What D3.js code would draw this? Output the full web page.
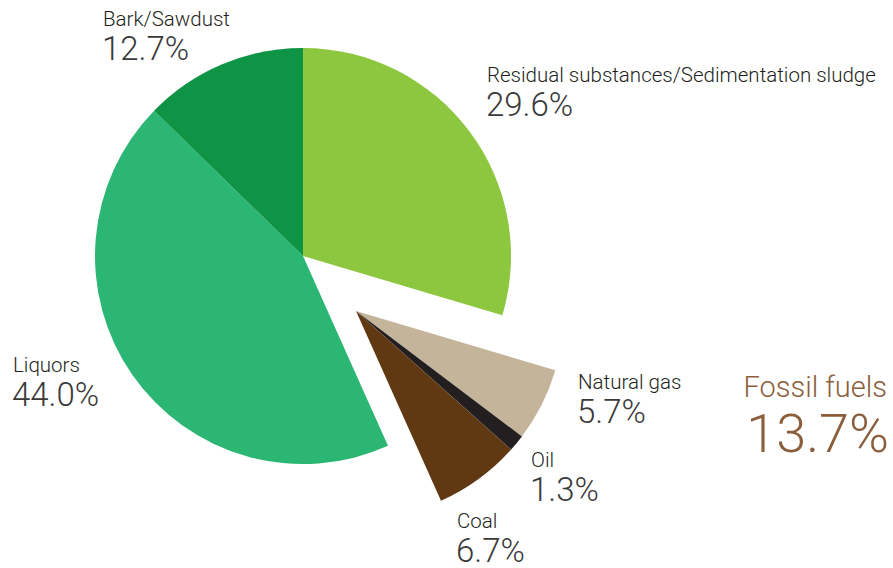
<!DOCTYPE html>
<html>
<head>
<meta charset="utf-8">
<script src="https://cdn.jsdelivr.net/npm/d3@7"></script>
<style>
  html, body { margin: 0; padding: 0; background: #ffffff; }
  svg text { font-family: Roboto, "Liberation Sans", sans-serif; font-weight: 300; }
</style>
</head>
<body>
<svg id="chart" width="893" height="568"></svg>
<script>
// Energy sources, in drawing order (clockwise from 12 o'clock)
const categories = ["Residual substances/Sedimentation sludge", "Natural gas", "Oil", "Coal", "Liquors", "Bark/Sawdust"];
const shares = [29.6, 5.7, 1.3, 6.7, 44.0, 12.7];
const fossil = ["Natural gas", "Oil", "Coal"];
const fossilTitle = "Fossil fuels";
const fossilShare = 13.7;

const colors = {
  "Residual substances/Sedimentation sludge": "#8dc63f",
  "Natural gas": "#c4b49a",
  "Oil": "#231f20",
  "Coal": "#603913",
  "Liquors": "#2bb673",
  "Bark/Sawdust": "#0f9345"
};

// label anchor (left edge, baseline of the name line)
const labelPos = {
  "Residual substances/Sedimentation sludge": [487, 82],
  "Natural gas": [578, 389],
  "Oil": [531, 467],
  "Coal": [457, 528],
  "Liquors": [13, 372],
  "Bark/Sawdust": [103, 26]
};

const cx = 303, cy = 256, radius = 208;
const explode = [53, 55];

const svg = d3.select("#chart");
const data = categories.map((c, i) => ({ name: c, value: shares[i] }));

const pie = d3.pie().sort(null).value(d => d.value).startAngle(0).endAngle(2 * Math.PI);
const arc = d3.arc().innerRadius(0).outerRadius(radius);

const g = svg.append("g").attr("transform", `translate(${cx},${cy})`);

g.selectAll("path")
  .data(pie(data))
  .join("path")
  .attr("d", arc)
  .attr("fill", d => colors[d.data.name])
  .attr("transform", d => fossil.includes(d.data.name) ? `translate(${explode[0]},${explode[1]})` : null);

const fmt = d3.format(".1f");

const labels = svg.append("g");
data.forEach(d => {
  const [x, y] = labelPos[d.name];
  labels.append("text")
    .attr("x", x).attr("y", y)
    .attr("font-size", 20.5)
    .attr("fill", "#231f20")
    .text(d.name);
  labels.append("text")
    .attr("x", x - 1).attr("y", y + 34)
    .attr("font-size", 33)
    .attr("fill", "#3a3a3a")
    .text(fmt(d.value) + "%");
});

labels.append("text")
  .attr("x", 887).attr("y", 397)
  .attr("text-anchor", "end")
  .attr("font-size", 29)
  .attr("fill", "#8b5e3c")
  .text(fossilTitle);
labels.append("text")
  .attr("x", 889).attr("y", 452)
  .attr("text-anchor", "end")
  .attr("font-size", 54)
  .attr("fill", "#8b5e3c")
  .text(fmt(fossilShare) + "%");
</script>
</body>
</html>
